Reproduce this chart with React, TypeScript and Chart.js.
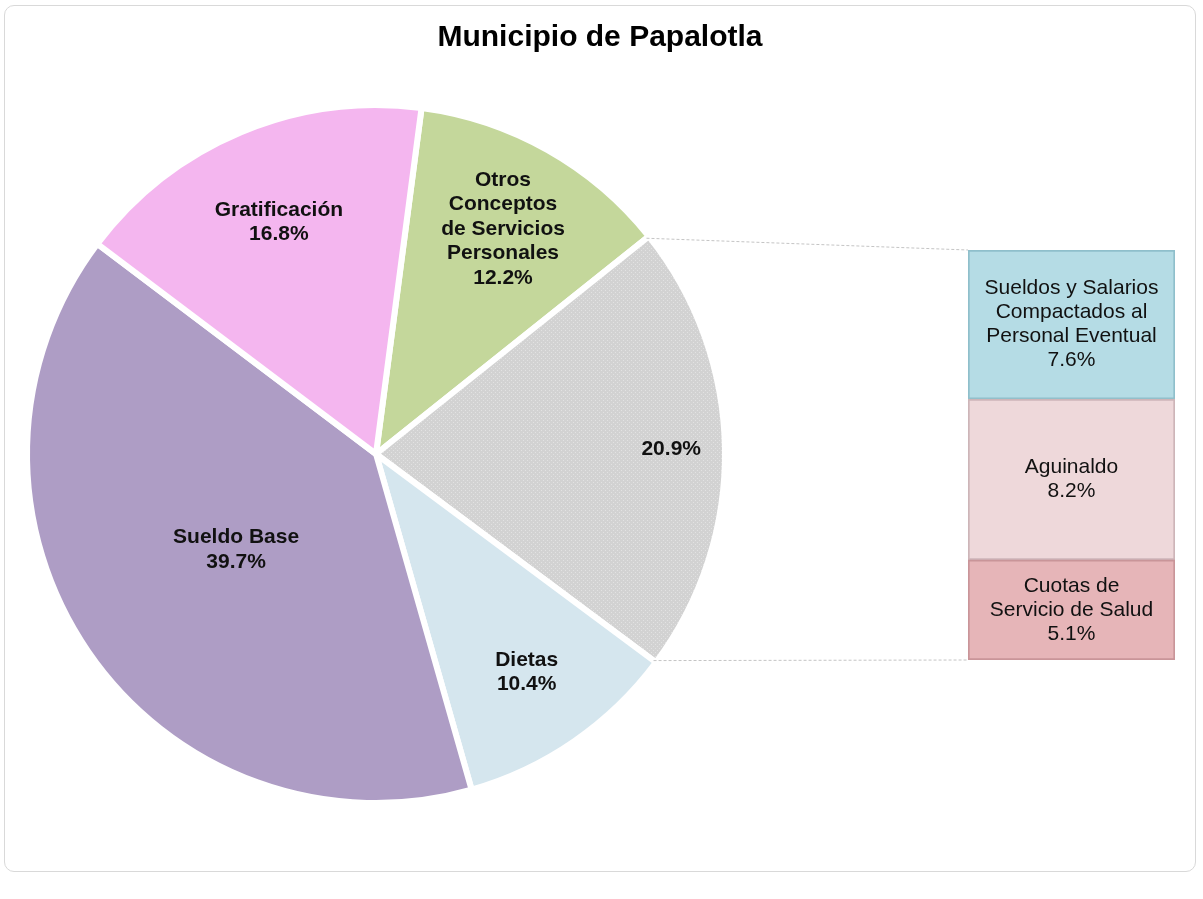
import React, { useEffect, useRef } from "react";
import { Chart, registerables } from "chart.js";

Chart.register(...registerables);

const TITLE = "Municipio de Papalotla";

// Pie (main) slices, clockwise starting from top-right
const pieNames: string[][] = [
  ["Otros", "Conceptos", "de Servicios", "Personales"],
  [],
  ["Dietas"],
  ["Sueldo Base"],
  ["Gratificación"],
];
const pieValues: number[] = [12.2, 20.9, 10.4, 39.7, 16.8];
const pieColors: string[] = ["#C4D79B", "#D4D4D4", "#D5E6EE", "#AE9DC5", "#F4B6EF"];

// Breakdown bar of the 20.9% slice (bottom to top)
const barNames: string[][] = [
  ["Cuotas de", "Servicio de Salud"],
  ["Aguinaldo"],
  ["Sueldos y Salarios", "Compactados al", "Personal Eventual"],
];
const barValues: number[] = [5.1, 8.2, 7.6];
const barColors: string[] = ["#E6B5B8", "#EED8DA", "#B5DCE5"];
const barBorders: string[] = ["#C99599", "#CDB5B8", "#8FBFCB"];

const W = 1190;
const H = 865;
const FONT = "'Liberation Sans', Arial, Helvetica, sans-serif";
const labelRadius = [0.74, 0.846, 0.76, 0.486, 0.72];

function makePattern(): CanvasPattern | string {
  const c = document.createElement("canvas");
  c.width = 4;
  c.height = 4;
  const g = c.getContext("2d");
  if (!g) return "#D4D4D4";
  g.fillStyle = "#D2D2D2";
  g.fillRect(0, 0, 4, 4);
  g.fillStyle = "#E2E2E2";
  g.fillRect(0, 0, 1, 1);
  g.fillRect(2, 2, 1, 1);
  const p = g.createPattern(c, "repeat");
  return p || "#D4D4D4";
}

export default function App() {
  const pieRef = useRef<HTMLCanvasElement>(null);
  const barRef = useRef<HTMLCanvasElement>(null);

  useEffect(() => {
    if (!pieRef.current || !barRef.current) return;
    const pattern = makePattern();
    const bg = pieColors.map((c, i) => (i === 1 ? pattern : c));

    const pieLabelPlugin = {
      id: "pieLabels",
      afterDatasetsDraw(chart: any) {
        const ctx = chart.ctx;
        const meta = chart.getDatasetMeta(0);
        ctx.save();
        // title, centred on the whole chart
        ctx.font = `bold 30px ${FONT}`;
        ctx.fillStyle = "#000";
        ctx.textAlign = "center";
        ctx.textBaseline = "middle";
        ctx.fillText(TITLE, chart.width / 2, 32);
        // slice labels
        ctx.font = `bold 21px ${FONT}`;
        ctx.fillStyle = "#111";
        meta.data.forEach((arc: any, i: number) => {
          const mid = (arc.startAngle + arc.endAngle) / 2;
          const r = arc.outerRadius * labelRadius[i];
          const x = arc.x + Math.cos(mid) * r;
          const y = arc.y + Math.sin(mid) * r;
          const lines = [...pieNames[i], pieValues[i].toFixed(1) + "%"];
          const lh = 24.5;
          const y0 = y - ((lines.length - 1) * lh) / 2;
          lines.forEach((t, k) => ctx.fillText(t, x, y0 + k * lh));
        });
        ctx.restore();
      },
    };

    const pie = new Chart(pieRef.current, {
      type: "pie",
      data: {
        labels: pieNames.map((n) => n.join(" ") || "Otros"),
        datasets: [
          {
            data: pieValues,
            backgroundColor: bg as any,
            borderColor: "#FFFFFF",
            borderWidth: 6,
            hoverOffset: 0,
          },
        ],
      },
      options: {
        responsive: false,
        animation: false,
        events: [],
        rotation: 7.5,
        radius: 349,
        layout: { padding: { left: 0, right: W - 742, top: 50, bottom: 19 } },
        plugins: {
          legend: { display: false },
          tooltip: { enabled: false },
          title: { display: false },
        },
      } as any,
      plugins: [pieLabelPlugin],
    });

    const total = barValues.reduce((a, b) => a + b, 0);

    const barPlugin = {
      id: "barExtras",
      afterDatasetsDraw(chart: any) {
        const ctx = chart.ctx;
        ctx.save();
        // connector lines from the gray slice to the bar
        const arc: any = pie.getDatasetMeta(0).data[1];
        const topBar: any = chart.getDatasetMeta(barValues.length - 1).data[0];
        const botBar: any = chart.getDatasetMeta(0).data[0];
        const left = topBar.x - topBar.width / 2;
        const p1x = arc.x + Math.cos(arc.startAngle) * (arc.outerRadius - 3);
        const p1y = arc.y + Math.sin(arc.startAngle) * (arc.outerRadius - 3);
        const p2x = arc.x + Math.cos(arc.endAngle) * (arc.outerRadius - 3);
        const p2y = arc.y + Math.sin(arc.endAngle) * (arc.outerRadius - 3);
        ctx.strokeStyle = "#C4C4C4";
        ctx.lineWidth = 1;
        ctx.setLineDash([3, 2]);
        ctx.beginPath();
        ctx.moveTo(p1x, p1y);
        ctx.lineTo(left, topBar.y);
        ctx.moveTo(p2x, p2y);
        ctx.lineTo(left, botBar.base);
        ctx.stroke();
        ctx.setLineDash([]);
        // labels
        ctx.font = `21px ${FONT}`;
        ctx.fillStyle = "#111";
        ctx.textAlign = "center";
        ctx.textBaseline = "middle";
        barValues.forEach((v, i) => {
          const el: any = chart.getDatasetMeta(i).data[0];
          const cy = (el.y + el.base) / 2;
          const lines = [...barNames[i], v.toFixed(1) + "%"];
          const lh = 24;
          const y0 = cy - ((lines.length - 1) * lh) / 2;
          lines.forEach((t, k) => ctx.fillText(t, el.x, y0 + k * lh));
        });
        ctx.restore();
      },
    };

    const bar = new Chart(barRef.current, {
      type: "bar",
      data: {
        labels: ["Otros"],
        datasets: barValues.map((v, i) => ({
          label: barNames[i].join(" "),
          data: [v],
          backgroundColor: barColors[i],
          borderColor: barBorders[i],
          borderWidth: 2,
          borderSkipped: false,
          barPercentage: 1,
          categoryPercentage: 1,
        })),
      },
      options: {
        responsive: false,
        animation: false,
        events: [],
        layout: { padding: { left: 963, right: W - 1170, top: 244, bottom: H - 654 } },
        scales: {
          x: { display: false, stacked: true },
          y: { display: false, stacked: true, min: 0, max: total },
        },
        plugins: { legend: { display: false }, tooltip: { enabled: false } },
      } as any,
      plugins: [barPlugin],
    });

    return () => {
      bar.destroy();
      pie.destroy();
    };
  }, []);

  return (
    <div
      style={{
        position: "absolute",
        left: 4,
        top: 5,
        width: W,
        height: H,
        border: "1px solid #D9D9D9",
        borderRadius: 10,
        background: "#fff",
      }}
    >
      <canvas
        ref={pieRef}
        width={W}
        height={H}
        style={{ position: "absolute", left: 0, top: 0, width: W, height: H }}
      />
      <canvas
        ref={barRef}
        width={W}
        height={H}
        style={{ position: "absolute", left: 0, top: 0, width: W, height: H }}
      />
    </div>
  );
}
